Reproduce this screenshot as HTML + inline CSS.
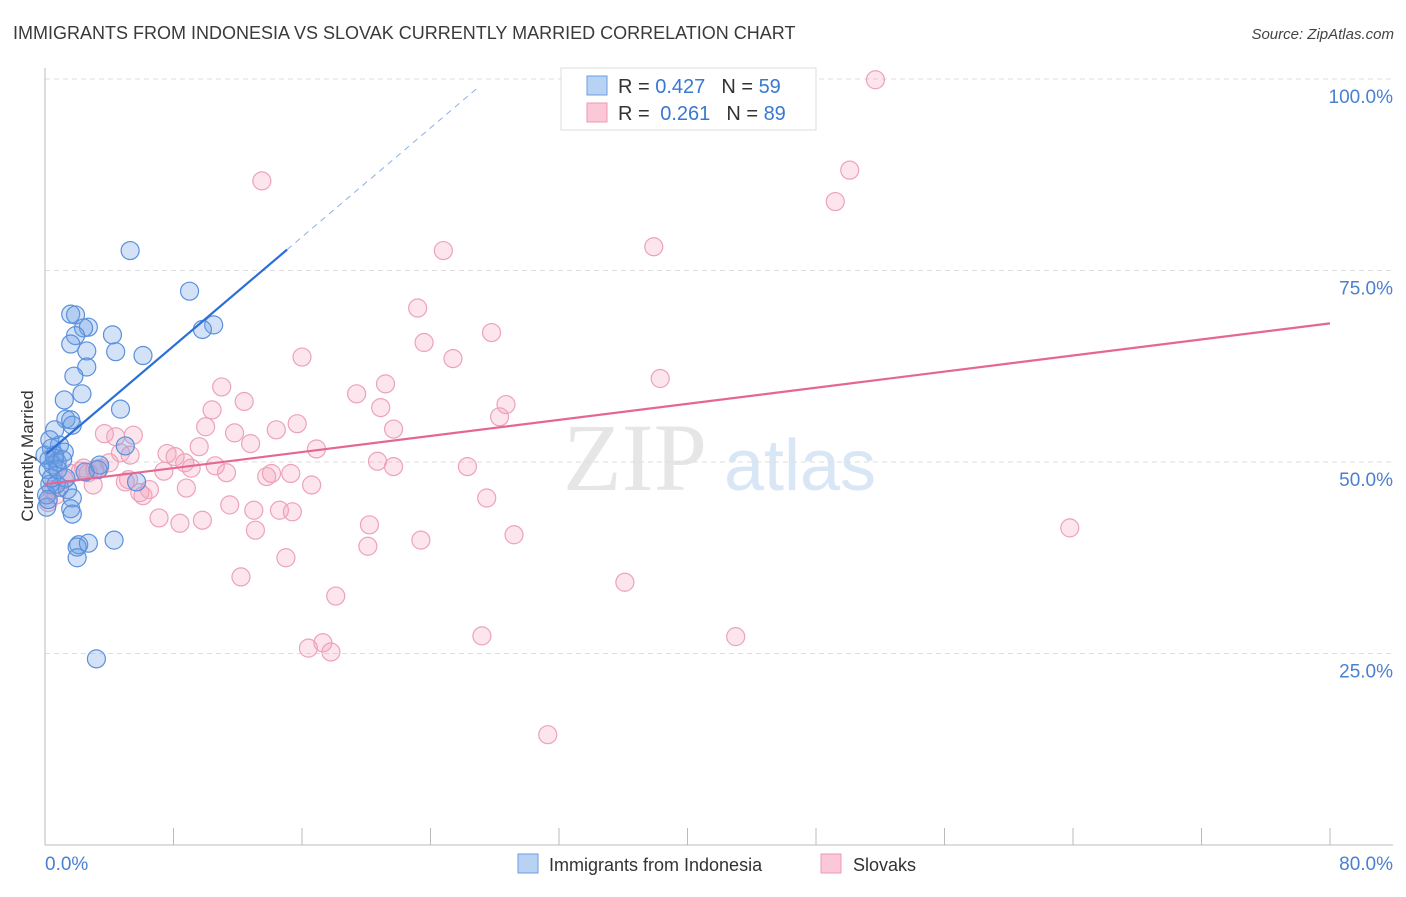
<!DOCTYPE html>
<html><head><meta charset="utf-8"><style>
body{margin:0;background:#fff;font-family:"Liberation Sans",sans-serif}
</style></head><body>
<svg id="chart" width="1406" height="892" xmlns="http://www.w3.org/2000/svg" font-family="Liberation Sans, sans-serif">
<text x="13" y="39" font-size="18" fill="#3a3a3a">IMMIGRANTS FROM INDONESIA VS SLOVAK CURRENTLY MARRIED CORRELATION CHART</text>
<text x="1394" y="39" font-size="15" fill="#444" font-style="italic" text-anchor="end">Source: ZipAtlas.com</text>
<g font-size="96" text-anchor="middle">
<text x="635" y="490" fill="#e6e6e6" font-family="Liberation Serif, serif">ZIP</text>
<text x="800" y="490" fill="#d8e6f6" font-size="72">atlas</text>
</g>
<g id="grid"></g>
<g id="axes"></g>
<g id="pts"></g>
<g id="lines"></g>
<text transform="translate(33,456) rotate(-90)" font-size="17" fill="#333" text-anchor="middle">Currently Married</text>
<g>
<rect x="561" y="68" width="255" height="62" fill="#fff" stroke="#ddd"/>
<rect x="587" y="76" width="20" height="19" fill="#b8d2f4" stroke="#6a9ee0"/>
<rect x="587" y="103" width="20" height="19" fill="#fbc8d7" stroke="#ee9ab5"/>
<text x="618" y="93" font-size="20" fill="#333">R = <tspan fill="#3a78d0">0.427</tspan><tspan dx="16">N = </tspan><tspan fill="#3a78d0">59</tspan></text>
<text x="618" y="120" font-size="20" fill="#333">R = <tspan dx="5" fill="#3a78d0">0.261</tspan><tspan dx="16">N = </tspan><tspan fill="#3a78d0">89</tspan></text>
</g>
<g font-size="18" fill="#333">
<rect x="518" y="854" width="20" height="19" fill="#b8d2f4" stroke="#6a9ee0"/>
<text x="549" y="871">Immigrants from Indonesia</text>
<rect x="821" y="854" width="20" height="19" fill="#fbc8d7" stroke="#ee9ab5"/>
<text x="853" y="871">Slovaks</text>
</g>
</svg>
<script>
const blueX=[5.3,9.0,1.6,1.9,2.7,2.4,1.9,4.2,1.6,2.6,4.4,6.1,2.6,1.8,2.3,1.2,1.3,1.6,1.7,4.7,10.5,9.8,5.0,0.9,0.4,1.2,0.6,0.25,0.75,0.5,0.2,0.6,3.3,5.7,0.9,0.3,1.4,1.7,0.7,1.6,1.7,2.1,2.0,2.7,4.3,2.0,3.2,0.1,0.1,0.4,0.8,1.1,0,1.3,2.5,3.4,0.3,0.6,0.2];
const blueY=[77.6,72.3,69.3,69.2,67.6,67.5,66.5,66.6,65.4,64.5,64.4,63.9,62.4,61.2,58.9,58.1,55.6,55.5,54.8,56.9,67.9,67.3,52.1,52.2,51.8,51.3,50.9,50.3,50.0,49.6,49.0,50.5,49.0,47.4,46.7,47.1,46.4,45.3,47.1,43.9,43.2,39.2,38.9,39.4,39.8,37.5,24.3,44.1,45.7,47.9,49.0,50.3,50.9,47.9,48.7,49.6,52.9,54.2,45.1];
const pinkX=[51.7,50.1,49.2,13.5,37.9,24.8,23.2,27.8,23.6,16.0,25.4,38.3,11.0,21.2,19.4,12.4,10.4,20.9,28.7,28.3,21.7,10.0,11.8,14.4,15.7,12.8,16.9,9.6,5.5,4.4,3.7,4.7,5.3,7.6,8.1,8.7,7.4,9.1,10.6,11.3,13.8,14.1,15.3,20.7,21.7,26.3,3.4,2.4,2.2,2.7,1.6,5.2,5.0,3.0,6.5,6.1,8.8,16.6,27.5,5.9,11.5,13.0,14.6,15.4,7.1,8.4,9.8,20.2,13.1,29.2,23.4,20.1,12.2,15.0,36.1,18.1,27.2,17.3,16.4,17.8,43.0,31.3,63.8,1.2,0.7,0.2,0.4,4.0,3.1];
const pinkY=[99.9,88.1,84.0,86.7,78.1,77.6,70.1,66.9,65.6,63.7,63.5,60.9,59.8,60.2,58.9,57.9,56.8,57.1,57.5,55.9,54.3,54.6,53.8,54.2,55.0,52.4,51.7,52.0,53.5,53.3,53.7,51.2,50.9,51.1,50.7,49.9,48.8,49.2,49.5,48.6,48.1,48.5,48.5,50.1,49.4,49.4,49.2,49.2,48.8,48.6,48.5,47.7,47.4,47.0,46.4,45.6,46.6,47.0,45.3,46.0,44.4,43.7,43.7,43.5,42.7,42.0,42.4,41.8,41.1,40.5,39.8,39.0,35.0,37.5,34.3,32.5,27.3,26.4,25.7,25.2,27.2,14.4,41.4,47.7,45.7,44.7,46.4,49.9,49.0];
const yTicks=[100,75,50,25];
const xTicks=[0,8,16,24,32,40,48,56,64,72,80];
const blueTrend=[50.9,1.78,15.07];   // intercept, slope, solid end x
const pinkTrend=[47.1,68.1];          // y at x=0, y at x=80
const X=v=>45+v/80*1285, Y=v=>845-v/100*766;
const NS='http://www.w3.org/2000/svg';
function mk(p,t,a){const e=document.createElementNS(NS,t);for(const k in a)e.setAttribute(k,a[k]);p.appendChild(e);return e;}
const grid=document.getElementById('grid'),axes=document.getElementById('axes');
yTicks.forEach(t=>{
 const l=mk(grid,'line',{x1:45,x2:1395,y1:Y(t),y2:Y(t),stroke:'#ddd','stroke-dasharray':'5,4'});
 
 
 const tx=mk(grid,'text',{x:1393,y:Y(t)+24,'font-size':19,fill:'#4a80d0','text-anchor':'end'});
 tx.textContent=t.toFixed(1)+'%';
 
 
});
mk(grid,'line',{x1:45,x2:1395,y1:79,y2:79,stroke:'#ddd','stroke-dasharray':'5,4'});
mk(axes,'line',{x1:45,x2:45,y1:68,y2:845,stroke:'#bbb'});
mk(axes,'line',{x1:45,x2:1393,y1:845,y2:845,stroke:'#bbb'});
xTicks.forEach(t=>{
 const l=mk(axes,'line',{x1:X(t),x2:X(t),y1:828,y2:845,stroke:'#bbb'});
 
 
});
const xl0=mk(axes,'text',{x:45,y:870,'font-size':19,fill:'#4a80d0'});xl0.textContent='0.0%';


const xl1=mk(axes,'text',{x:1393,y:870,'font-size':19,fill:'#4a80d0','text-anchor':'end'});xl1.textContent='80.0%';


const pts=document.getElementById('pts');
pinkX.forEach((x,i)=>{
 const c=mk(pts,'circle',{cx:X(x),cy:Y(pinkY[i]),r:9,fill:'rgba(244,160,188,0.28)',stroke:'#eda2ba','stroke-width':1.2});
 
 
});
blueX.forEach((x,i)=>{
 const c=mk(pts,'circle',{cx:X(x),cy:Y(blueY[i]),r:9,fill:'rgba(110,160,230,0.3)',stroke:'#5a90dc','stroke-width':1.2});
 
 
});
const lines=document.getElementById('lines');
const bx=blueTrend[2], by=v=>blueTrend[0]+blueTrend[1]*v;
const b1=mk(lines,'line',{x1:X(0.1),y1:Y(by(0.1)),x2:X(bx),y2:Y(by(bx)),stroke:'#2a6fd6','stroke-width':2.2});


const xe=(100-blueTrend[0])/blueTrend[1]*0.975;
const b2=mk(lines,'line',{x1:X(bx),y1:Y(by(bx)),x2:X(xe),y2:Y(by(xe)),stroke:'#8ab0e6','stroke-width':1,'stroke-dasharray':'6,5'});


const p1=mk(lines,'line',{x1:X(0),y1:Y(pinkTrend[0]),x2:X(80),y2:Y(pinkTrend[1]),stroke:'#e66692','stroke-width':2.2});


</script>
</body></html>
